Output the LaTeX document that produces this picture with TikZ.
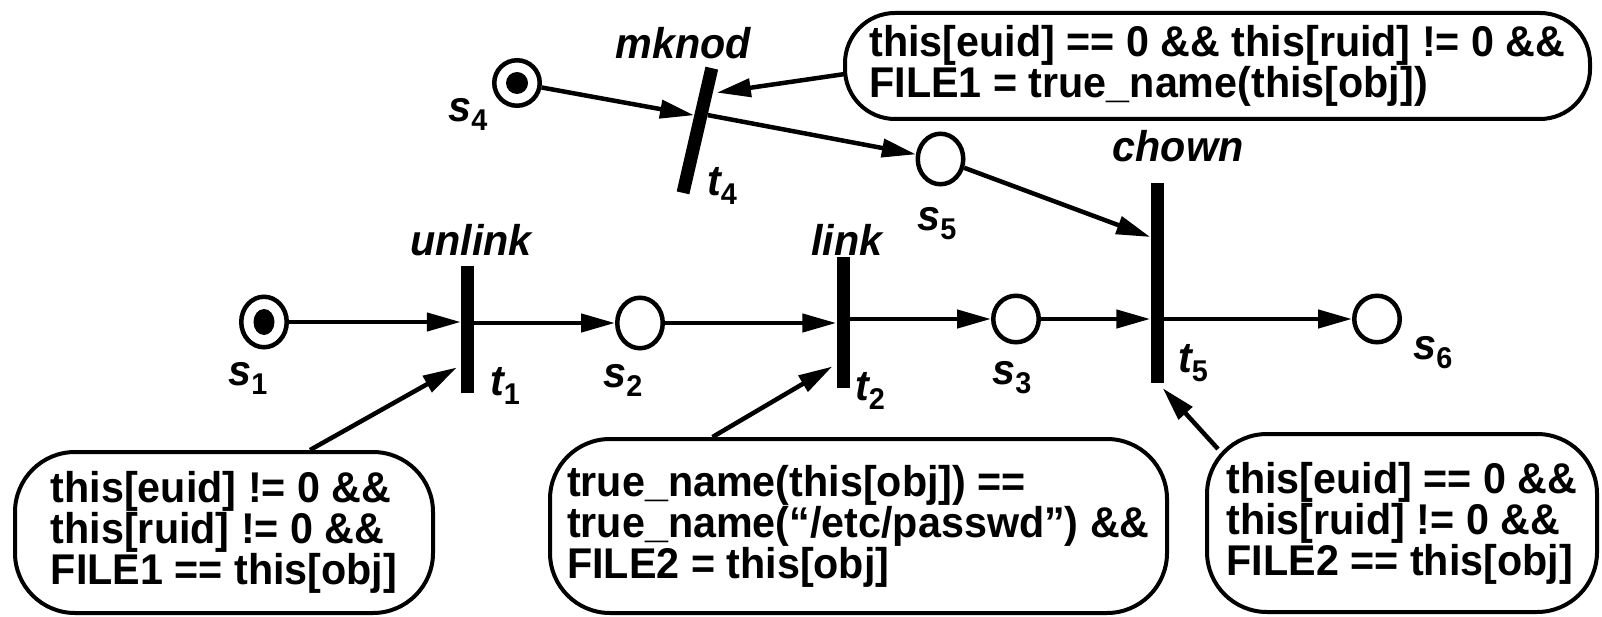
\documentclass[tikz,border=0pt]{standalone}
\usepackage{fontspec}
\setmainfont{Liberation Sans}[FakeStretch=0.96]
\usepackage{tikz}
\usetikzlibrary{
	shapes.geometric,
	positioning,
	arrows.meta,
	calc
}
\newcommand{\pname}[2]{#1\raisebox{-9pt}{\fontsize{30}{30}\selectfont\upshape #2}}

\begin{document}
\begin{tikzpicture}[
	x=1pt, y=-1pt,
	place/.style={draw, ellipse, line width=4.5pt, minimum width=45.5pt, minimum height=46.5pt, inner sep=0pt},
	token/.style={fill, ellipse, minimum width=21pt, minimum height=26pt, inner sep=0pt},
	trans/.style={fill, rectangle, minimum width=13pt, inner sep=0pt},
	guard/.style={draw, rounded corners=60pt, line width=4pt, align=left, inner sep=0pt,
		font=\fontsize{43}{38.5}\selectfont\bfseries},
	lbl/.style={inner sep=0pt, font=\fontsize{43}{43}\selectfont\bfseries\itshape},
	arc/.style={line width=4.5pt, -{Triangle[length=34pt, width=18pt]}}
]
	\useasboundingbox (0,0) rectangle (1602,617);

	% places and transitions
	\node[place, minimum height=50.5pt] (s1) at (264,322) {};
	\node[token] (m1) at (s1) {};
	\node[trans, minimum height=127pt] (t1) at (467.5,329.5) {};
	\node[place, minimum height=50.5pt] (s2) at (640,323) {};
	\node[trans, minimum height=131pt] (t2) at (843,322.5) {};
	\node[place] (s3) at (1016,319) {};
	\node[trans, minimum height=200pt] (t5) at (1157,283) {};
	\node[place] (s6) at (1377,319) {};
	\node[place, minimum height=45.5pt] (s4) at (517,83) {};
	\node[token, minimum width=22pt, minimum height=22pt] (m4) at (s4) {};
	\node[trans, minimum height=128pt, rotate=-13] (t4) at (697.4,130.5) {};
	\node[place, minimum height=50.5pt] (s5) at (940.5,159) {};

	% guards
	\node[guard, minimum width=418pt, minimum height=161pt] (c1) at (224,532.5)
		{this[euid] != 0 \&\&\\this[ruid] != 0 \&\&\\FILE1 == this[obj]};
	\node[guard, minimum width=617pt, minimum height=174pt] (c2) at (858.5,526)
		{true\_name(this[obj]) ==\\true\_name(“/etc/passwd”) \&\&\\FILE2 = this[obj]};
	\node[guard, minimum width=390pt, minimum height=178pt] (c3) at (1402,523)
		{this[euid] == 0 \&\&\\this[ruid] != 0 \&\&\\FILE2 == this[obj]};
	\node[guard, rounded corners=50pt, minimum width=745pt, minimum height=106pt] (c4) at (1217.5,66)
		{this[euid] == 0 \&\& this[ruid] != 0 \&\&\\FILE1 = true\_name(this[obj])};

	% names
	\node[lbl] (n4) at (683,43) {mknod};
	\node[lbl] (n1) at (471,240) {unlink};
	\node[lbl] (n2) at (847,240) {link};
	\node[lbl] (n5) at (1178,146) {chown};
	\node[lbl] (ls1) at (248,378) {\pname{s}{1}};
	\node[lbl] (lt1) at (505,386) {\pname{t}{1}};
	\node[lbl] (ls2) at (623,380) {\pname{s}{2}};
	\node[lbl] (lt2) at (870,391) {\pname{t}{2}};
	\node[lbl] (ls3) at (1012,378) {\pname{s}{3}};
	\node[lbl] (lt5) at (1193,363) {\pname{t}{5}};
	\node[lbl] (ls6) at (1433,353) {\pname{s}{6}};
	\node[lbl] (ls4) at (468,114) {\pname{s}{4}};
	\node[lbl] (lt4) at (722,186) {\pname{t}{4}};
	\node[lbl] (ls5) at (937,224) {\pname{s}{5}};

	\draw
		(s1) edge[arc] (s1 -| t1.west)
		(t1.east |- s2) edge[arc] (s2)
		(s2) edge[arc] (s2 -| t2.west)
		(t2.east |- s3) edge[arc] (s3)
		(s3) edge[arc] (s3 -| t5.west)
		(t5.east |- s6) edge[arc] (s6)
		(s4) edge[arc] ($(t4.west)!0.22!(t4.north west)$)
		($(t4.east)!0.27!(t4.north east)$) edge[arc] (s5)
		(s5) edge[arc] ($(t5.west)+(0,-46)$)
		($(c4.west)+(2,8)$) edge[arc, shorten >=4pt] ($(t4.east)!0.62!(t4.north east)$)
		($(c1.north)+(86,0)$) edge[arc] ($(t1.west)+(-4,38)$)
		($(c2.north)+(-146,0)$) edge[arc] ($(t2.west)+(-4,44)$)
		($(c3.north west)+(13,17)$) edge[arc] ($(t5.south east)+(-1,5)$)
	;
\end{tikzpicture}
\end{document}
